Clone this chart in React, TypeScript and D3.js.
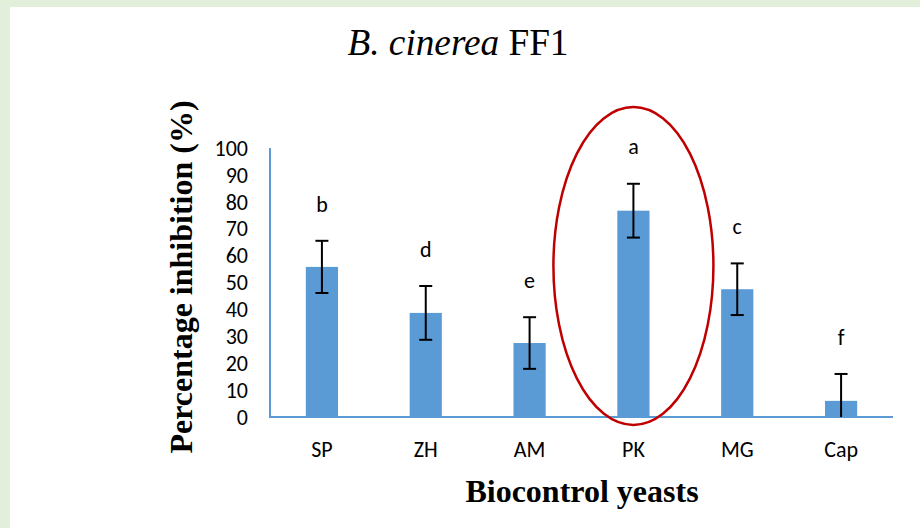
import React from "react";
import * as d3 from "d3";

const categories = ["SP", "ZH", "AM", "PK", "MG", "Cap"];
const values = [55.8, 38.7, 27.5, 76.7, 47.5, 6];
const errors = [9.7, 10, 9.6, 10, 9.6, 10];
const letters = ["b", "d", "e", "a", "c", "f"];
const yTicks = [0, 10, 20, 30, 40, 50, 60, 70, 80, 90, 100];
const highlighted = "PK";

const W = 920;
const H = 528;
const margin = { left: 270, right: 27, top: 148, bottom: 111 };

export default function App() {
  const x = d3
    .scaleBand<string>()
    .domain(categories)
    .range([margin.left, W - margin.right])
    .paddingInner(0.69)
    .paddingOuter(0.345);
  const y = d3.scaleLinear().domain([0, 100]).range([H - margin.bottom, margin.top]);
  const bw = x.bandwidth();
  const serif = "'Liberation Serif', 'Times New Roman', serif";
  const sans = "Carlito, Calibri, 'Open Sans', sans-serif";
  const hx = (x(highlighted) as number) + bw / 2;

  return (
    <svg
      width={W}
      height={H}
      style={{ position: "absolute", left: 0, top: 0, display: "block" }}
    >
      <rect x={0} y={0} width={W} height={H} fill="#e2efda" />
      <rect x={10} y={7} width={W - 10} height={H - 7} fill="#ffffff" />
      <text
        x={458}
        y={55}
        textAnchor="middle"
        fontFamily={serif}
        fontSize={37}
        fill="#000"
        textLength={221}
        lengthAdjust="spacingAndGlyphs"
      >
        <tspan fontStyle="italic">B. cinerea</tspan>
        <tspan> FF1</tspan>
      </text>
      {categories.map((c, i) => (
        <rect
          key={c}
          x={x(c)}
          y={y(values[i])}
          width={bw}
          height={y(0) - y(values[i])}
          fill="#5b9bd5"
        />
      ))}
      <line x1={margin.left} x2={margin.left} y1={y(100)} y2={y(0)} stroke="#5b9bd5" strokeWidth={2} />
      <line x1={margin.left - 1} x2={W - margin.right} y1={y(0)} y2={y(0)} stroke="#5b9bd5" strokeWidth={2} />
      {categories.map((c, i) => {
        const cx = (x(c) as number) + bw / 2;
        const top = y(values[i] + errors[i]);
        const bot = y(Math.max(0, values[i] - errors[i]));
        const hasBottomCap = values[i] - errors[i] > 0;
        return (
          <g key={c} stroke="#000" strokeWidth={2}>
            <line x1={cx} x2={cx} y1={top} y2={bot} />
            <line x1={cx - 6.5} x2={cx + 6.5} y1={top} y2={top} />
            {hasBottomCap && <line x1={cx - 6.5} x2={cx + 6.5} y1={bot} y2={bot} />}
          </g>
        );
      })}
      {categories.map((c, i) => (
        <text
          key={c}
          x={(x(c) as number) + bw / 2}
          y={y(values[i] + errors[i]) - 37}
          dy="0.35em"
          textAnchor="middle"
          fontFamily={sans}
          fontSize={22}
          fill="#000"
        >
          {letters[i]}
        </text>
      ))}
      {yTicks.map((t) => (
        <text
          key={t}
          x={248}
          y={y(t)}
          dy="0.35em"
          textAnchor="end"
          fontFamily={sans}
          fontSize={22}
          fill="#000"
        >
          {t}
        </text>
      ))}
      {categories.map((c) => (
        <text
          key={c}
          x={(x(c) as number) + bw / 2}
          y={449}
          dy="0.35em"
          textAnchor="middle"
          fontFamily={sans}
          fontSize={22}
          fill="#000"
        >
          {c}
        </text>
      ))}
      <ellipse cx={hx} cy={266} rx={80} ry={159} fill="none" stroke="#c00000" strokeWidth={2.5} />
      <text
        transform="translate(192,277) rotate(-90)"
        textAnchor="middle"
        fontFamily={serif}
        fontWeight="bold"
        fontSize={32}
        fill="#000"
      >
        Percentage inhibition (%)
      </text>
      <text
        x={582}
        y={502}
        textAnchor="middle"
        fontFamily={serif}
        fontWeight="bold"
        fontSize={32}
        fill="#000"
      >
        Biocontrol yeasts
      </text>
    </svg>
  );
}
